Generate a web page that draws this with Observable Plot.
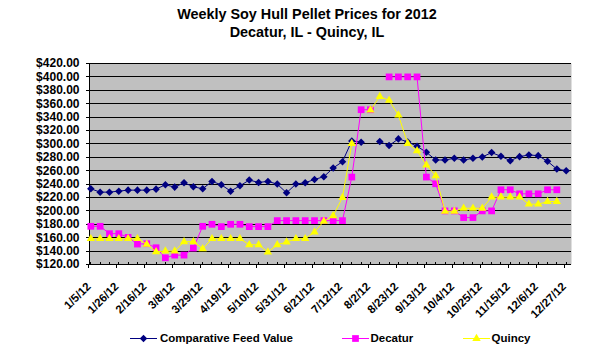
<!DOCTYPE html>
<html>
<head>
<meta charset="utf-8">
<script src="https://cdn.jsdelivr.net/npm/d3@7"></script>
<script src="https://cdn.jsdelivr.net/npm/@observablehq/plot@0.6"></script>
<style>
  html, body { margin: 0; padding: 0; background: white; }
  #wrap { position: relative; width: 595px; height: 359px; overflow: hidden; font-family: "Liberation Sans", Arial, sans-serif; }
  #chart { position: absolute; left: 0; top: 0; }
  .title { position: absolute; left: 0; width: 614px; text-align: center; font-weight: bold; font-size: 14.4px; line-height: 18px; color: black; }
  .leg { position: absolute; font-weight: bold; font-size: 11.5px; line-height: 14px; color: black; white-space: nowrap; }
  .sw { position: absolute; }
</style>
</head>
<body>
<div id="wrap">
  <div id="chart"></div>
  <div class="title" style="top:4.5px">Weekly Soy Hull Pellet Prices for 2012</div>
  <div class="title" style="top:22.5px">Decatur, IL - Quincy, IL</div>
</div>
<script>
// ---- data (weekly, starting Thursday 1/5/2012) ----
const firstWeek = "2012-01-05";
const cfv = [233, 228, 228, 229.5, 231, 231, 231, 232.5, 239, 235.5, 242, 236, 233,
             244, 239, 229.5, 237.5, 246, 242.5, 244, 240, 227, 240, 242, 247, 251,
             264, 273.5, 304.5, 302.5, null, 303.5, 297.5, 307.5, 303, 296.5, 287.5, 276,
             276, 278.5, 276, 278.5, 280.5, 287, 281.5, 275, 281, 283.5, 282.5, 274, 262.5, 260];
const decatur = [177, 177, 166, 166, 160.5, 150.5, 151, 145, 130, 134, 134, 144.5, 177,
                 180, 176.5, 180, 180, 176.5, 176.5, 176.5, 185.5, 185.5, 185.5, 185.5, 185.5, 185.5,
                 185.5, 185.5, 250.5, 351, 351, null, 400, 400, 400, 400, 250.5, 240.5,
                 200, 200, 190, 190, 200, 200, 231.5, 231.5, 225.5, 225.5, 225.5, 231.5, 231.5, null];
const quincy = [158.5, 158.5, 158.5, 158.5, 158.5, 158.5, 150, 139, 140, 140, 154, 154, 143.5,
                158.5, 158.5, 158.5, 158.5, 149.5, 149.5, 138.5, 149.5, 153.5, 158.5, 158.5, 168.5, 184.5,
                192.5, 220, 300.5, null, 350.5, 370.5, 365, 343, 300.5, 289.5, 268.5, 252.5,
                199.5, 199.5, 204, 204, 204, 220.5, 220.5, 220.5, 220.5, 210, 210, 214, 214, null];
const seriesNames = ["Comparative Feed Value", "Decatur", "Quincy"];
const seriesColors = ["#000080", "#FF00FF", "#FFFF00"];
const xTickLabels = ["1/5/12", "1/26/12", "2/16/12", "3/8/12", "3/29/12", "4/19/12", "5/10/12",
                     "5/31/12", "6/21/12", "7/12/12", "8/2/12", "8/23/12", "9/13/12", "10/4/12",
                     "10/25/12", "11/15/12", "12/6/12", "12/27/12"];
const yTicks = [120, 140, 160, 180, 200, 220, 240, 260, 280, 300, 320, 340, 360, 380, 400, 420];
const xDomain = ["2012-01-04", "2012-12-31"];

// ---- build table ----
const start = new Date(firstWeek + "T00:00:00Z");
const weeks = cfv.map((_, i) => d3.utcDay.offset(start, 7 * i));
const data = weeks.map((date, i) => ({date, cfv: cfv[i], decatur: decatur[i], quincy: quincy[i]}));
const tickDates = weeks.filter((d, i) => i % 3 === 0);
const labelOf = new Map(tickDates.map((d, i) => [+d, xTickLabels[i]]));

// custom diamond (rotated square, like Excel's marker)
const diamond = {
  draw(ctx, size) {
    const h = Math.sqrt(size / 2);
    ctx.moveTo(0, -h); ctx.lineTo(h, 0); ctx.lineTo(0, h); ctx.lineTo(-h, 0); ctx.closePath();
  }
};
const keys = ["cfv", "decatur", "quincy"];
const symbols = [diamond, "square", "triangle"];
const radii = [3.0, 3.8, 3.1];

const marks = [
  Plot.frame({fill: "#C0C0C0", stroke: null}),
  Plot.ruleY(yTicks, {stroke: "black", strokeWidth: 1, shapeRendering: "crispEdges"}),
  Plot.ruleX([new Date(xDomain[0] + "T00:00:00Z")], {stroke: "black", shapeRendering: "crispEdges"}),
  Plot.ruleX(weeks, {x: d => d, y1: 120, y2: 123, stroke: "black", shapeRendering: "crispEdges"}),
  Plot.axisY({ticks: yTicks, tickFormat: d => "$" + d.toFixed(2), tickSize: 3, tickPadding: 7,
              fontSize: 12, fontWeight: "bold", label: null, shapeRendering: "crispEdges"}),
  Plot.axisX({ticks: tickDates, tickFormat: d => labelOf.get(+d), tickSize: 4, tickPadding: 16,
              tickRotate: -45, fontSize: 11.5, fontWeight: "bold", label: null, dx: -2, shapeRendering: "crispEdges"})
];
keys.forEach((k, j) => {
  marks.push(Plot.line(data, {x: "date", y: k, stroke: seriesColors[j], strokeWidth: 1}));
  marks.push(Plot.dot(data, {x: "date", y: k, symbol: symbols[j], r: radii[j], fill: seriesColors[j], stroke: "none"}));
});

const chart = Plot.plot({
  width: 595,
  height: 359,
  marginLeft: 89,
  marginRight: 24,
  marginTop: 63,
  marginBottom: 95,
  style: {fontFamily: "'Liberation Sans', Arial, sans-serif", fontWeight: "bold", color: "black", background: "transparent"},
  x: {type: "utc", domain: xDomain.map(s => new Date(s + "T00:00:00Z"))},
  y: {domain: [120, 420]},
  marks
});
document.getElementById("chart").appendChild(chart);

// ---- legend ----
const wrap = document.getElementById("wrap");
const legPos = [{sw: 130, tx: 160}, {sw: 341.5, tx: 370.5}, {sw: 463, tx: 491.5}];
seriesNames.forEach((name, j) => {
  const svg = d3.create("svg").attr("class", "sw").attr("width", 28).attr("height", 14)
    .style("left", legPos[j].sw + "px").style("top", "331px");
  svg.append("line").attr("x1", 0).attr("x2", 27).attr("y1", 7.5).attr("y2", 7.5)
    .attr("stroke", seriesColors[j]).attr("stroke-width", 1);
  const sym = j === 0 ? diamond : (j === 1 ? d3.symbolSquare : d3.symbolTriangle);
  svg.append("path").attr("transform", "translate(13.5,7.5)")
    .attr("d", d3.symbol(sym, Math.PI * radii[j] * radii[j])())
    .attr("fill", seriesColors[j]);
  wrap.appendChild(svg.node());
  const t = document.createElement("div");
  t.className = "leg";
  t.style.left = legPos[j].tx + "px";
  t.style.top = "331px";
  t.textContent = name;
  wrap.appendChild(t);
});
</script>
</body>
</html>
